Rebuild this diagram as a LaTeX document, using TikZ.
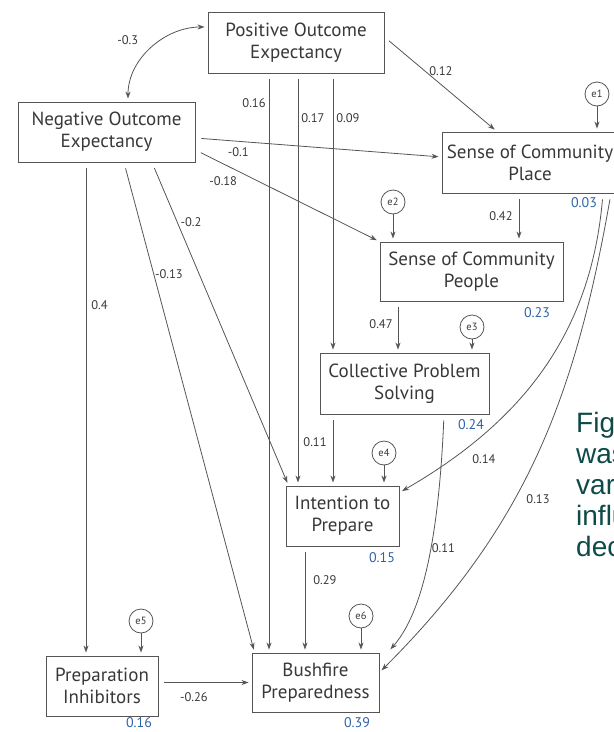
\documentclass[tikz,border=0pt]{standalone}
\usepackage{fontspec}
\setmainfont{PT Sans}
\newfontfamily\capfont{Liberation Sans}
\usetikzlibrary{arrows.meta,calc,positioning}

\definecolor{boxline}{HTML}{555555}
\definecolor{txtgray}{HTML}{383838}
\definecolor{rblue}{HTML}{2F63A8}
\definecolor{capteal}{HTML}{0E4B48}

\tikzset{
  var/.style={draw=boxline, line width=0.9pt, rectangle, align=center,
    inner sep=0pt, text=txtgray, font=\fontsize{19}{22}\selectfont},
  err/.style={draw=boxline, line width=0.8pt, circle, minimum size=24pt,
    inner sep=0pt, text=txtgray, font=\fontsize{10.5}{12}\selectfont},
  link/.style={draw=boxline, line width=0.8pt,
    -{Stealth[length=7pt,width=5pt]}, shorten >=3pt, shorten <=6pt},
  lbl/.style={inner sep=1pt, text=txtgray, font=\fontsize{12.5}{14}\selectfont},
  rsq/.style={inner sep=1pt, text=rblue, font=\fontsize{14}{16}\selectfont},
  captext/.style={inner sep=0pt, anchor=base west, text=capteal,
    font=\capfont\fontsize{28}{31}\selectfont}
}

\begin{document}
\begin{tikzpicture}[x=1pt, y=-1pt]
    \useasboundingbox (0,0) rectangle (614,732);

    % Variables
    \node[var, minimum width=176pt, minimum height=61pt] (POE) at (296,42.5) {Positive Outcome\\Expectancy};
    \node[var, minimum width=177pt, minimum height=60pt] (NOE) at (106.5,132) {Negative Outcome\\Expectancy};
    \node[var, minimum width=176pt, minimum height=61pt] (SCPl) at (530,162.5) {Sense of Community\\Place};
    \node[var, minimum width=183pt, minimum height=59pt] (SCPe) at (471.5,271.5) {Sense of Community\\People};
    \node[var, minimum width=169pt, minimum height=61pt] (CPS) at (404.5,383.5) {Collective Problem\\Solving};
    \node[var, minimum width=113pt, minimum height=60pt] (ITP) at (342.5,516) {Intention to\\Prepare};
    \node[var, minimum width=127pt, minimum height=59pt] (BP) at (315.5,682.5) {Bushfire\\Preparedness};
    \node[var, minimum width=112pt, minimum height=60pt] (PI) at (102,686) {Preparation\\Inhibitors};

    % Errors
    \foreach \n/\x/\y/\t in {1/597/94/SCPl, 2/393/202/SCPe, 3/472/327/CPS,
                              4/384/453/ITP, 5/141/621/PI, 6/361/616/BP} {
      \node[err] (e\n) at (\x,\y) {e\n};
      \draw[link, shorten <=0pt] (e\n) -- (e\n |- \t.north);
    }

    % Explained variance
    \node[rsq] (r1) at (584,203) {0.03};
    \node[rsq] (r2) at (537,313) {0.23};
    \node[rsq] (r3) at (471,425) {0.24};
    \node[rsq] (r4) at (382,558) {0.15};
    \node[rsq] (r5) at (357,723) {0.39};
    \node[rsq] (r6) at (139,723) {0.16};

    % Correlation
    \draw[link, {Stealth[length=7pt,width=5pt]}-{Stealth[length=7pt,width=5pt]}, shorten <=3pt]
      ([xshift=21.5pt]NOE.north) to[out=90, in=180]
      node[lbl, pos=0.5, xshift=-24pt, yshift=8pt] (w0) {-0.3} ([yshift=15.5pt]POE.west);

    % Positive outcome expectancy
    \draw[link] ($(POE.east)+(0,-5.5)$) -- node[lbl, pos=0.36, right=3pt] (w1) {0.12} ([xshift=-33pt]SCPl.north);
    \draw[link] ([xshift=-27pt]POE.south) -- node[lbl, pos=0.052, left=2pt] (w2) {0.16} ([xshift=-27pt]POE.south |- BP.north);
    \draw[link] ([xshift=2pt]POE.south) -- node[lbl, pos=0.109, right=2pt] (w3) {0.17} ([xshift=2pt]POE.south |- ITP.north);
    \draw[link] ([xshift=37pt]POE.south) -- node[lbl, pos=0.16, right=2pt] (w4) {0.09} ([xshift=37pt]POE.south |- CPS.north);

    % Negative outcome expectancy
    \draw[link] ($(NOE.east)+(0,6)$) -- node[lbl, pos=0.174, below=5pt] (w5) {-0.1} ([yshift=5.5pt]SCPl.west);
    \draw[link] ($(NOE.east)+(0,18)$) -- node[lbl, pos=0.151, below=11pt] (w6) {-0.18} (SCPe.north west);
    \draw[link] ([xshift=-20.5pt]NOE.south) -- node[lbl, pos=0.29, right=4pt] (w7) {0.4} ([xshift=-20.5pt]NOE.south |- PI.north);
    \draw[link] ($(NOE.south)+(45.5,0)$) -- node[lbl, pos=0.185, right=2pt] (w8) {-0.2} ([xshift=3pt]ITP.north west);
    \draw[link] ($(NOE.south)+(17.5,0)$) -- node[lbl, pos=0.228, right=0pt] (w9) {-0.13} ([xshift=3pt]BP.north west);

    % Sense of community
    \draw[link] ([xshift=-11pt]SCPl.south) -- node[lbl, pos=0.47, left=5pt] (w10) {0.42} ([xshift=-11pt]SCPl.south |- SCPe.north);
    \draw[link] ($(SCPl.south)+(73,0)$) to[out=-95, in=30]
      node[lbl, pos=0.85, right=20pt] (w11) {0.14} ($(ITP.north east)+(0,7)$);
    \draw[link] ($(SCPl.south)+(81,0)$) to[out=-100, in=45]
      node[lbl, pos=0.6, right=11pt] (w12) {0.13} ($(BP.east)+(0,-10)$);
    \draw[link] ([xshift=-73.5pt]SCPe.south) -- node[lbl, pos=0.44, left=4pt] (w13) {0.47} ([xshift=-73.5pt]SCPe.south |- CPS.north);

    % Collective problem solving
    \draw[link] ([xshift=-71.5pt]CPS.south) -- node[lbl, pos=0.39, left=5pt] (w14) {0.11} ([xshift=-71.5pt]CPS.south |- ITP.north);
    \draw[link] ($(CPS.south)+(39.5,0)$) .. controls +(-6,140) and +(30,-34) .. ($(BP.north east)+(9,-1)$)
      node[lbl, pos=0.4, right=0pt] (w15) {0.11};

    % Intention and inhibitors
    \draw[link] ([xshift=-37.5pt]ITP.south) -- node[lbl, pos=0.32, right=7pt] (w16) {0.29} ([xshift=-37.5pt]ITP.south |- BP.north);
    \draw[link] (PI.east |- BP.west) -- node[lbl, pos=0.38, below=9pt] (w17) {-0.26} (BP.west);

    % Caption
    \foreach \w [count=\i] in {Fig,was,var,influ,dec}
      \node[captext] (f\i) at (576,{400.8+31.2*\i}) {\w};
\end{tikzpicture}
\end{document}
